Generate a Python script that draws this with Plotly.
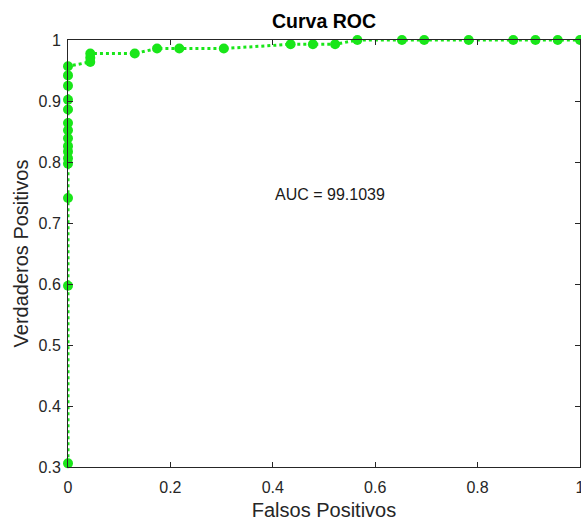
import plotly.graph_objects as go

# ROC data (false positive rate, true positive rate)
fpr = [0, 0, 0, 0, 0, 0, 0, 0, 0, 0, 0, 0, 0, 0, 0,
       0.0435, 0.0435, 0.0435, 0.1304, 0.1739, 0.2174, 0.3043,
       0.4348, 0.4783, 0.5217, 0.5652, 0.6522, 0.6957, 0.7826,
       0.8696, 0.9130, 0.9565, 1.0]
tpr = [0.306, 0.597, 0.741, 0.797, 0.806, 0.817, 0.826, 0.839, 0.852, 0.864,
       0.886, 0.902, 0.925, 0.942, 0.957,
       0.964, 0.971, 0.978, 0.978, 0.986, 0.986, 0.986,
       0.993, 0.993, 0.993, 1.0, 1.0, 1.0, 1.0,
       1.0, 1.0, 1.0, 1.0]

x_ticks = [0, 0.2, 0.4, 0.6, 0.8, 1]
x_labels = ["0", "0.2", "0.4", "0.6", "0.8", "1"]
y_ticks = [0.3, 0.4, 0.5, 0.6, 0.7, 0.8, 0.9, 1]
y_labels = ["0.3", "0.4", "0.5", "0.6", "0.7", "0.8", "0.9", "1"]

title_text = "Curva ROC"
x_title = "Falsos Positivos"
y_title = "Verdaderos Positivos"
auc_value = 99.1039

green = "#19e619"
axis_col = "#262626"
font_family = "Liberation Sans, Arial, sans-serif"

fig = go.Figure()
fig.add_trace(go.Scatter(
    x=fpr, y=tpr, mode="lines+markers",
    line=dict(color=green, width=3, dash="dot"),
    marker=dict(color=green, size=10, line=dict(width=0)),
    cliponaxis=False, showlegend=False,
))

fig.add_annotation(
    x=0.4, y=0.746, xref="x", yref="y", text=f"AUC = {auc_value:.4f}",
    showarrow=False, xanchor="left", yanchor="middle",
    font=dict(family=font_family, size=16, color="#1a1a1a"),
)

axis_common = dict(
    showgrid=False, zeroline=False, showline=True, linecolor=axis_col,
    linewidth=1, mirror="ticks", ticks="inside", ticklen=5, tickcolor=axis_col,
    tickfont=dict(family=font_family, size=16, color=axis_col),
    ticklabeloverflow="allow", automargin=False,
)

fig.update_layout(
    width=581, height=521,
    margin=dict(l=68, r=1, t=40, b=54),
    paper_bgcolor="white", plot_bgcolor="white",
    font=dict(family=font_family),
    title=dict(text=f"<b>{title_text}</b>", x=0.5, xref="paper", xanchor="center",
               y=1 - 21 / 521, yref="container", yanchor="middle",
               font=dict(family=font_family, size=19.5, color="black")),
    xaxis=dict(range=[0, 1], tickvals=x_ticks, ticktext=x_labels,
               ticklabelstandoff=6,
               title=dict(text=x_title, standoff=9,
                          font=dict(family=font_family, size=20, color=axis_col)),
               **axis_common),
    yaxis=dict(range=[0.3, 1], tickvals=y_ticks, ticktext=y_labels,
               ticklabelstandoff=3,
               title=dict(text=y_title, standoff=4,
                          font=dict(family=font_family, size=20, color=axis_col)),
               **axis_common),
)

fig.write_html("out.html")
